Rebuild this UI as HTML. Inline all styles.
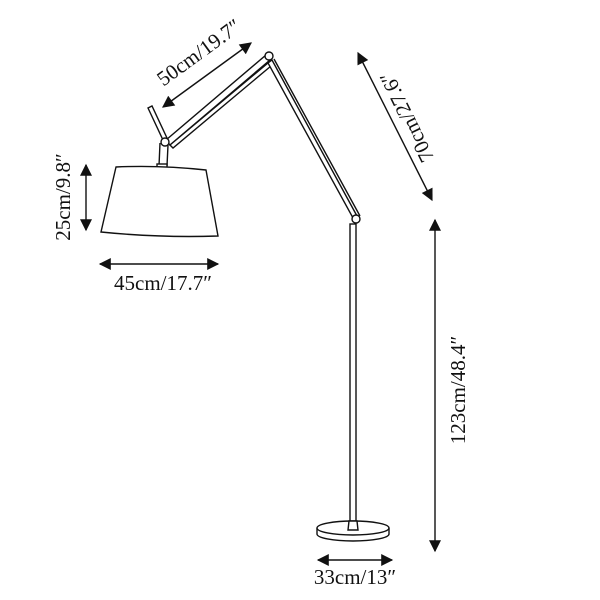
<!DOCTYPE html>
<html><head><style>body{margin:0;background:#fff}svg{display:block}text{font-family:"Liberation Serif",serif;font-size:21px;fill:#111}</style></head><body>
<svg width="600" height="600" viewBox="0 0 600 600">
<defs><marker id="a" viewBox="0 0 10 10" refX="9" refY="5" markerWidth="14" markerHeight="12" markerUnits="userSpaceOnUse" orient="auto-start-reverse"><path d="M0,0L10,5L0,10z" fill="#111"/></marker></defs>
<g stroke="#111" stroke-width="1.4" fill="#fff">
<path d="M148,108 L152,106 L167,138 L163,140z"/>
<path d="M166,140 L266,55 L270,60 L170,145z"/>
<path d="M170,145 L268,63 L271,66 L173,148z"/>
<path d="M272,60 L357,216 L353,218 L268,63z"/>
<path d="M274,59 L360,216"/>
<path d="M160,143 L159,166 M168,145 L167,166"/>
<rect x="157" y="164" width="10" height="4"/>
<circle cx="165" cy="142" r="4"/>
<circle cx="269" cy="56" r="4"/>
<circle cx="356" cy="219" r="4"/>
<path d="M116,167 Q160,165 206,170 L218,236 Q160,238 101,232z"/>
<rect x="350" y="224" width="6" height="302"/>
<path d="M317,528 L317,534 A36,7 0 0 0 389,534 L389,528"/>
<ellipse cx="353" cy="528" rx="36" ry="7"/>
<path d="M349,521 L357,521 L358,530 L348,530z"/>
</g>
<g stroke="#111" stroke-width="1.4" fill="none" marker-start="url(#a)" marker-end="url(#a)">
<line x1="163" y1="107" x2="251" y2="43"/>
<line x1="358" y1="53" x2="432" y2="200"/>
<line x1="435" y1="220" x2="435" y2="551"/>
<line x1="86" y1="165" x2="86" y2="230"/>
<line x1="100" y1="264" x2="218" y2="264"/>
<line x1="318" y1="560" x2="392" y2="560"/>
</g>
<g text-anchor="middle">
<text transform="translate(203,58) rotate(-36)">50cm/19.7″</text>
<text transform="translate(413,114) rotate(-116)">70cm/27.6″</text>
<text transform="translate(465,390) rotate(-90)">123cm/48.4″</text>
<text transform="translate(70,197) rotate(-90)">25cm/9.8″</text>
<text x="163" y="290">45cm/17.7″</text>
<text x="355" y="584">33cm/13″</text>
</g>
</svg></body></html>
